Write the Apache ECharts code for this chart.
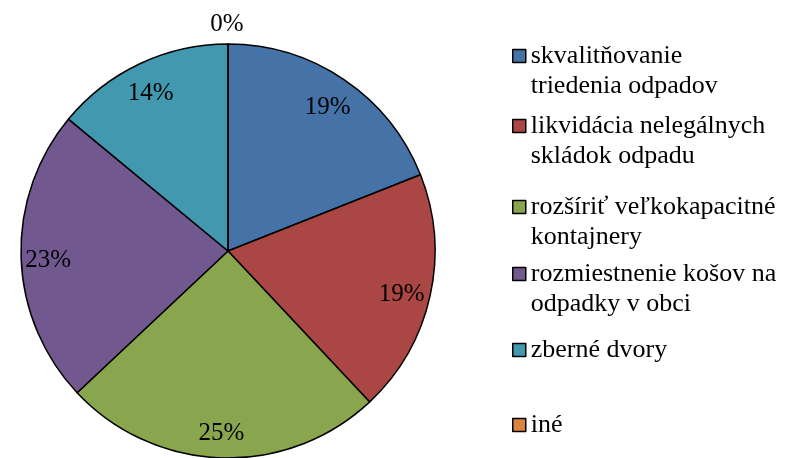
<!DOCTYPE html>
<html>
<head>
<meta charset="utf-8">
<script src="https://cdn.jsdelivr.net/npm/echarts@6/dist/echarts.min.js"></script>
<style>
    html, body { margin: 0; padding: 0; background: #fff; }
    #chartPie { width: 786px; height: 458px; }
</style>
</head>
<body>
<div id="chartPie"></div>
<script>
    // data
    var categories = ['skvalitňovanie triedenia odpadov', 'likvidácia nelegálnych skládok odpadu',
        'rozšíriť veľkokapacitné kontajnery', 'rozmiestnenie košov na odpadky v obci', 'zberné dvory', 'iné'];
    var legendText = ['skvalitňovanie\ntriedenia odpadov', 'likvidácia nelegálnych\nskládok odpadu',
        'rozšíriť veľkokapacitné\nkontajnery', 'rozmiestnenie košov na\nodpadky v obci', 'zberné dvory', 'iné'];
    var percents = [19, 19, 25, 23, 14, 0];
    var colors = ['#4572A7', '#AA4643', '#89A54E', '#71588F', '#4198AF', '#DB843D'];
    var legendTops = [56, 126, 207, 274, 350, 425];

    var font = 'Liberation Serif, Times New Roman, serif';
    var center = [228, 251];
    var labelCenter = [227, 255];

    var chartPie = echarts.init(document.getElementById('chartPie'));

    // legend text is centred on the marker, so a leading empty line
    // puts the first line of a two-line entry level with the marker
    var legends = categories.map(function (name, i) {
        var lines = legendText[i].split('\n').length;
        var text = lines > 1 ? '\n' + legendText[i] : legendText[i];
        var half = lines > 1 ? 45 : 15;
        return {
            data: [name],
            left: 512,
            top: legendTops[i] - half,
            padding: 0,
            icon: 'rect',
            itemWidth: 13,
            itemHeight: 13,
            selectedMode: false,
            itemStyle: { borderColor: '#000', borderWidth: 1.5 },
            formatter: function () { return text; },
            textStyle: {
                fontFamily: font,
                fontSize: 26,
                lineHeight: 30,
                color: '#000'
            }
        };
    });

    function labelData(show) {
        return categories.map(function (name, i) {
            return { name: name, value: percents[i], label: { show: show(percents[i]) } };
        });
    }

    var labelStyle = {
        position: 'inside',
        fontFamily: font,
        fontSize: 25,
        color: '#000',
        formatter: function (p) { return p.value + '%'; }
    };
    var clear = { color: 'rgba(0,0,0,0)', borderWidth: 0 };

    chartPie.setOption({
        animation: false,
        color: colors,
        legend: legends,
        series: [
            {
                name: 'slices',
                type: 'pie',
                center: center,
                radius: 207,
                startAngle: 90,
                clockwise: true,
                label: { show: false },
                labelLine: { show: false },
                itemStyle: { borderColor: '#000', borderWidth: 1.5 },
                emphasis: { disabled: true },
                data: categories.map(function (name, i) {
                    return { name: name, value: percents[i] };
                })
            },
            {
                name: 'labels',
                type: 'pie',
                center: labelCenter,
                radius: [152, 200],
                startAngle: 90,
                silent: true,
                itemStyle: clear,
                labelLine: { show: false },
                label: labelStyle,
                emphasis: { disabled: true },
                data: labelData(function (v) { return v > 0; })
            },
            {
                name: 'zero',
                type: 'pie',
                center: labelCenter,
                radius: [216, 240],
                startAngle: 90,
                silent: true,
                itemStyle: clear,
                labelLine: { show: false },
                label: labelStyle,
                emphasis: { disabled: true },
                data: labelData(function (v) { return v === 0; })
            }
        ]
    });
</script>
</body>
</html>
